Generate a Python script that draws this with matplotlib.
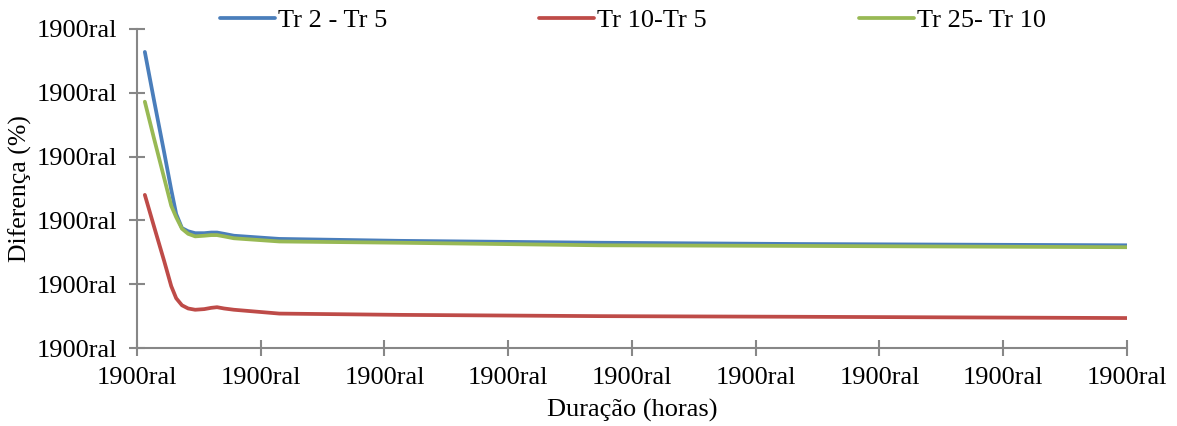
import matplotlib
matplotlib.use("Agg")
import matplotlib.pyplot as plt
from matplotlib.ticker import FixedLocator, FixedFormatter

# ---------------------------------------------------------------------------
# Data
# ---------------------------------------------------------------------------
duracao = [0.19, 0.41, 0.66, 0.83, 0.95, 1.09, 1.24, 1.41, 1.63, 1.80,
           1.94, 2.11, 2.35, 3.45, 6.36, 11.21, 16.07, 24.0]

tr2_tr5 = [46.4, 38.9, 30.6, 24.8, 21.0, 18.8, 18.3, 18.0, 18.0, 18.1,
           18.1, 17.9, 17.6, 17.1, 16.8, 16.5, 16.3, 16.1]
tr10_tr5 = [24.0, 19.1, 13.6, 9.7, 7.8, 6.7, 6.2, 6.0, 6.1, 6.3,
            6.4, 6.2, 6.0, 5.4, 5.2, 5.0, 4.9, 4.7]
tr25_tr10 = [38.6, 32.9, 26.6, 22.3, 20.5, 18.7, 17.9, 17.5, 17.6, 17.7,
             17.7, 17.5, 17.2, 16.7, 16.5, 16.1, 16.0, 15.8]

x_ticks = [0, 3, 6, 9, 12, 15, 18, 21, 24]
y_ticks = [0, 10, 20, 30, 40, 50]
tick_text = "1900ral"

series = [
    ("Tr 2 - Tr 5", tr2_tr5, "#4a7ebb"),
    ("Tr 10-Tr 5", tr10_tr5, "#be4b48"),
    ("Tr 25- Tr 10", tr25_tr10, "#98b954"),
]

plt.rcParams["font.family"] = ["Liberation Serif", "DejaVu Serif"]
plt.rcParams["font.size"] = 19

fig = plt.figure(figsize=(11.77, 4.26), dpi=100)
ax = fig.add_axes([0.1164, 0.183, 0.8411, 0.749])

for label, vals, col in series:
    ax.plot(duracao, vals, color=col, linewidth=2.7, label=label,
            solid_capstyle="round", solid_joinstyle="round")

ax.set_xlim(0, 24)
ax.set_ylim(0, 50)
ax.xaxis.set_major_locator(FixedLocator(x_ticks))
ax.xaxis.set_major_formatter(FixedFormatter([tick_text] * len(x_ticks)))
ax.yaxis.set_major_locator(FixedLocator(y_ticks))
ax.yaxis.set_major_formatter(FixedFormatter([tick_text] * len(y_ticks)))

for side in ("top", "right"):
    ax.spines[side].set_visible(False)
for side in ("left", "bottom"):
    ax.spines[side].set_color("#878787")
    ax.spines[side].set_linewidth(1.5)
ax.tick_params(direction="inout", length=11, width=1.5, color="#878787",
               labelsize=19)
ax.tick_params(axis="x", pad=8)
ax.tick_params(axis="y", pad=9)

ax.set_xlabel("Duração (horas)", fontsize=19, labelpad=0)
ax.set_ylabel("Diferença (%)", fontsize=18.5, labelpad=0)
ax.xaxis.set_label_coords(0.5, -0.16)
ax.yaxis.set_label_coords(-0.106, 0.5)

ax.legend(loc="center left", bbox_to_anchor=(0.0838, 1.028), ncol=3,
          frameon=False, fontsize=19, handlelength=2.08, columnspacing=5.76,
          handletextpad=0.12, borderaxespad=0, borderpad=0)

fig.savefig("out.png", dpi=100)
